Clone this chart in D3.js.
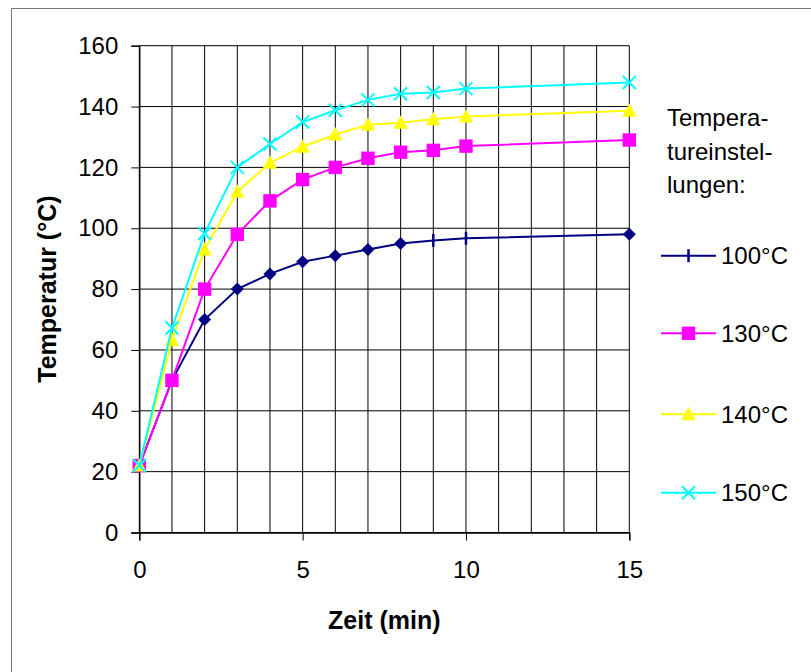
<!DOCTYPE html>
<html><head><meta charset="utf-8">
<script src="https://cdn.jsdelivr.net/npm/d3@7"></script>
<style>
body{margin:0;background:#fff}
svg{display:block}
text{font-family:"Liberation Sans",Arial,sans-serif;fill:#000}
</style>
</head><body>
<svg id="chart" width="811" height="672"></svg>
<script>
// ---- data ----
const times = [0, 1, 2, 3, 4, 5, 6, 7, 8, 9, 10, 15];
const temp100 = [22, 50, 70, 80, 85, 89, 91, 93, 95, 96, 96.7, 98];
const temp130 = [22, 50, 80, 98, 109, 116, 120, 123, 125, 125.6, 127, 129];
const temp140 = [22, 63.3, 93, 112, 121.5, 126.8, 130.8, 134, 134.7, 135.8, 136.7, 138.6];
const temp150 = [22, 67.2, 98.3, 120, 127.7, 134.9, 138.8, 142.2, 144.2, 144.6, 145.9, 147.9];
const seriesNames = ["100°C", "130°C", "140°C", "150°C"];
const yTickValues = [0, 20, 40, 60, 80, 100, 120, 140, 160];
const xTickValues = [0, 5, 10, 15];
const legendTitle = ["Tempera-", "tureinstel-", "lungen:"];
const xTitle = "Zeit (min)";
const yTitle = "Temperatur (°C)";

// ---- styles ----
const colors = ["#000080", "#FF00FF", "#FFFF00", "#00FFFF"];
const markerTypes = ["diamond", "square", "triangle", "cross"];
// 100°C series: points at t=9 and t=10 drawn with the tick marker (as in the original)
const tickMarkerTimes100 = [9, 10];

const seriesValues = [temp100, temp130, temp140, temp150];
const series = seriesNames.map((name, i) => ({
  name, color: colors[i], marker: markerTypes[i],
  points: times.map((t, j) => ({ t, v: seriesValues[i][j] }))
}));

const svg = d3.select("#chart");
const x = d3.scaleLinear().domain([0, 15]).range([139.3, 629.3]);
const y = d3.scaleLinear().domain([0, 160]).range([532.5, 45.7]);

// outer frame (left/top visible)
svg.append("line").attr("x1", 11.5).attr("y1", 8.5).attr("x2", 811).attr("y2", 8.5).attr("stroke", "#777");
svg.append("line").attr("x1", 11.5).attr("y1", 8.5).attr("x2", 11.5).attr("y2", 672).attr("stroke", "#777");

// grid
const grid = svg.append("g").attr("stroke", "#000").attr("stroke-width", 1);
grid.selectAll("line.v").data(d3.range(0, 16)).join("line")
  .attr("x1", d => x(d)).attr("x2", d => x(d)).attr("y1", y(0)).attr("y2", y(160));
grid.selectAll("line.h").data(yTickValues).join("line")
  .attr("x1", x(0)).attr("x2", x(15)).attr("y1", d => y(d)).attr("y2", d => y(d));

// axes
const yAxis = svg.append("g").attr("transform", `translate(${x(0)},0)`)
  .call(d3.axisLeft(y).tickValues(yTickValues).tickSize(8).tickPadding(13).tickFormat(d3.format("d")));
const xAxis = svg.append("g").attr("transform", `translate(0,${y(0)})`)
  .call(d3.axisBottom(x).tickValues(xTickValues).tickSize(8).tickPadding(20).tickFormat(d3.format("d")));
[yAxis, xAxis].forEach(a => {
  a.select(".domain").attr("stroke", "#000").attr("stroke-width", 1.3);
  a.selectAll(".tick line").attr("stroke", "#000");
  a.selectAll("text").attr("font-size", 24).attr("font-family", '"Liberation Sans",Arial,sans-serif').attr("fill", "#000");
});

// axis titles
svg.append("text").attr("x", (x(0) + x(15)) / 2).attr("y", 629).attr("text-anchor", "middle")
  .attr("font-size", 25).attr("font-weight", "bold").text(xTitle);
svg.append("text").attr("transform", `translate(56,${(y(0) + y(160)) / 2}) rotate(-90)`)
  .attr("text-anchor", "middle").attr("font-size", 25).attr("font-weight", "bold").text(yTitle);

// marker drawing
function drawMarker(g, type, cx, cy, color) {
  if (type === "square") {
    g.append("rect").attr("x", cx - 6.7).attr("y", cy - 6.7).attr("width", 13.4).attr("height", 13.4).attr("fill", color);
  } else if (type === "diamond") {
    g.append("path").attr("d", `M${cx},${cy - 6.5}L${cx + 6.5},${cy}L${cx},${cy + 6.5}L${cx - 6.5},${cy}Z`).attr("fill", color);
  } else if (type === "triangle") {
    g.append("path").attr("d", `M${cx},${cy - 7.5}L${cx + 7},${cy + 6}L${cx - 7},${cy + 6}Z`).attr("fill", color);
  } else if (type === "cross") {
    g.append("path").attr("d", `M${cx - 6.5},${cy - 6.5}L${cx + 6.5},${cy + 6.5}M${cx - 6.5},${cy + 6.5}L${cx + 6.5},${cy - 6.5}`)
      .attr("stroke", color).attr("stroke-width", 2).attr("fill", "none");
  } else if (type === "tick") {
    g.append("line").attr("x1", cx).attr("x2", cx).attr("y1", cy - 6.5).attr("y2", cy + 6.5)
      .attr("stroke", color).attr("stroke-width", 2.5);
  }
}

// series
const line = d3.line().x(d => x(d.t)).y(d => y(d.v));
series.forEach((s, i) => {
  const g = svg.append("g");
  g.append("path").datum(s.points).attr("d", line).attr("fill", "none")
    .attr("stroke", s.color).attr("stroke-width", 2);
  s.points.forEach(p => {
    const type = (i === 0 && tickMarkerTimes100.includes(p.t)) ? "tick" : s.marker;
    drawMarker(g, type, x(p.t), y(p.v), s.color);
  });
});

// legend
const lg = svg.append("g");
legendTitle.forEach((t, i) => {
  lg.append("text").attr("x", 667).attr("y", 126 + i * 33.5).attr("font-size", 24).text(t);
});
const legendY = [255.7, 333.3, 414.3, 492.7];
series.forEach((s, i) => {
  const ly = legendY[i];
  lg.append("line").attr("x1", 661).attr("x2", 716).attr("y1", ly).attr("y2", ly)
    .attr("stroke", s.color).attr("stroke-width", 2);
  drawMarker(lg, i === 0 ? "tick" : s.marker, 688.5, ly, s.color);
  lg.append("text").attr("x", 721).attr("y", ly).attr("dy", "0.35em").attr("font-size", 24).text(s.name);
});
</script>
</body></html>
